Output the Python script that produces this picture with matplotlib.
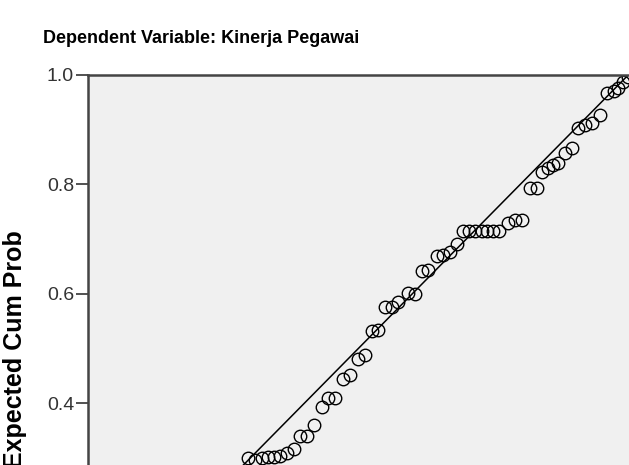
import numpy as np
import matplotlib
matplotlib.use("Agg")
import matplotlib.pyplot as plt

plt.rcParams['font.family'] = ['Liberation Sans', 'DejaVu Sans']

# Normal P-P plot of regression standardized residual (visible part)
observed_cum_prob = [0.2963, 0.3093, 0.3222, 0.3333, 0.3444, 0.3556, 0.3685, 0.3815,
                     0.3926, 0.4050, 0.4191, 0.4328, 0.4450, 0.4574, 0.4728, 0.4852,
                     0.5006, 0.5130, 0.5254, 0.5376, 0.5500, 0.5624, 0.5746, 0.5931,
                     0.6056, 0.6180, 0.6302, 0.6469, 0.6580, 0.6704, 0.6839,
                     0.6950, 0.7061, 0.7167, 0.7291, 0.7394, 0.7506, 0.7617,
                     0.7783, 0.7907, 0.8031, 0.8185, 0.8309, 0.8402, 0.8524, 0.8617,
                     0.8709, 0.8833, 0.8957, 0.9080, 0.9204, 0.9328, 0.9481, 0.9606,
                     0.9728, 0.9820, 0.9913, 1.0000]
expected_cum_prob = [0.3005, 0.2968, 0.3005, 0.3023, 0.3023, 0.3041, 0.3096, 0.3169,
                     0.3406, 0.3406, 0.3607, 0.3931, 0.4095, 0.4095, 0.4442, 0.4521,
                     0.4807, 0.4886, 0.5324, 0.5342, 0.5768, 0.5768, 0.5859, 0.6013,
                     0.5995, 0.6420, 0.6438, 0.6694, 0.6712, 0.6773, 0.6908,
                     0.7151, 0.7151, 0.7151, 0.7151, 0.7151, 0.7151, 0.7151,
                     0.7302, 0.7352, 0.7352, 0.7931, 0.7931, 0.8234, 0.8296, 0.8356,
                     0.8387, 0.8570, 0.8661, 0.9027, 0.9087, 0.9118, 0.9269, 0.9666,
                     0.9713, 0.9757, 0.9878, 0.9963]
ref_line = [0.0, 1.0]
yticks = [0.0, 0.2, 0.4, 0.6, 0.8, 1.0]

fig = plt.figure(figsize=(6.29, 4.65), dpi=100)
fig.patch.set_facecolor('white')

# axes run past the bottom/right edge of the picture (cropped chart)
ax = fig.add_axes([88/629, (465-622.5)/465, 551/629, 547.5/465])
ax.set_facecolor('#f0f0f0')

ax.plot(ref_line, ref_line, color='black', linewidth=1.1)
ax.plot(observed_cum_prob, expected_cum_prob, linestyle='none', marker='o',
        markersize=9, markerfacecolor='none', markeredgecolor='black',
        markeredgewidth=1.0)

ax.set_xlim(0, 1.02)
ax.set_ylim(0, 1)
ax.set_yticks(yticks)
ax.set_yticklabels(["%.1f" % t for t in yticks])
ax.tick_params(axis='y', direction='out', length=9, width=1.2, color='#333333',
               labelsize=14, labelcolor='#333333', pad=1)
ax.set_xticks([])

for side in ['top', 'left']:
    ax.spines[side].set_linewidth(1.8)
    ax.spines[side].set_color('#444444')
for side in ['right', 'bottom']:
    ax.spines[side].set_visible(False)

ax.set_ylabel('Expected Cum Prob', fontsize=18, fontweight='bold')
ax.yaxis.set_label_coords((27 - 88) / 551, 0.5)

fig.text(43/629, 1 - 38/465, 'Dependent Variable: Kinerja Pegawai',
         fontsize=13, fontweight='bold', ha='left', va='center')

fig.savefig('out.png', dpi=100)
